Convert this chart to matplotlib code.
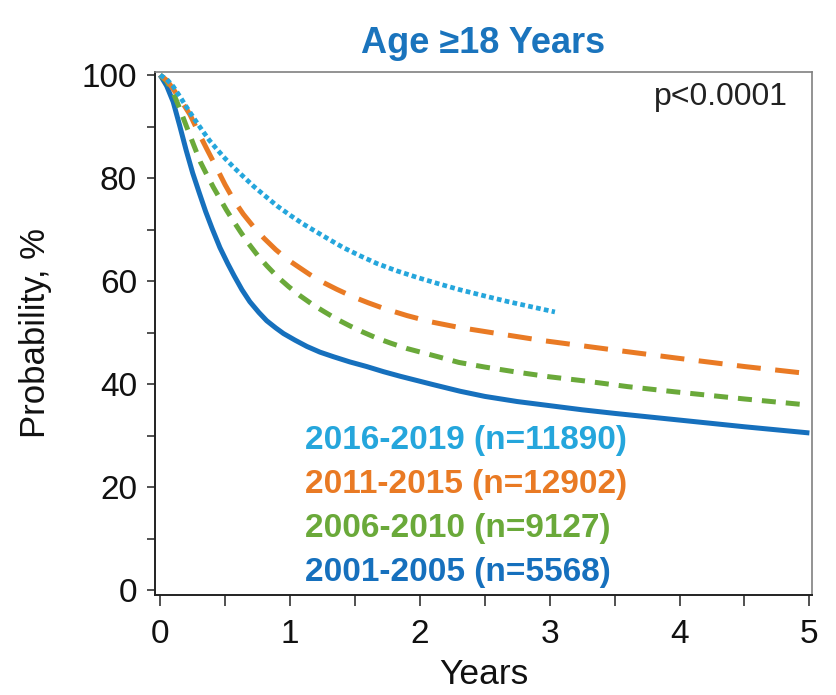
import matplotlib
matplotlib.use("Agg")
import matplotlib.pyplot as plt
from matplotlib.ticker import MultipleLocator

plt.rcParams['font.family'] = ['Liberation Sans', 'DejaVu Sans']

# ---- data ----
t_2001 = [0, 0.05, 0.1, 0.15, 0.2, 0.25, 0.3, 0.35, 0.4, 0.46, 0.52, 0.57, 0.63, 0.69, 0.76, 0.82,
          0.89, 0.95, 1.04, 1.13, 1.23, 1.335, 1.46, 1.59, 1.72, 1.85, 2.1, 2.31, 2.5, 2.75, 3.0,
          3.25, 3.5, 4.0, 4.5, 5.0]
v_2001 = [100, 97.9, 94.8, 90.2, 85.4, 81.0, 77.2, 73.5, 70.2, 66.5, 63.4, 61.0, 58.3, 56.0, 53.9, 52.3,
          50.9, 49.8, 48.5, 47.3, 46.2, 45.3, 44.3, 43.4, 42.4, 41.5, 39.9, 38.6, 37.6, 36.6, 35.8,
          35.0, 34.3, 33.0, 31.7, 30.5]

t_2006 = [0, 0.05, 0.1, 0.15, 0.2, 0.26, 0.31, 0.36, 0.41, 0.46, 0.51, 0.56, 0.62, 0.68, 0.75, 0.82,
          0.9, 0.99, 1.08, 1.17, 1.26, 1.36, 1.46, 1.56, 1.67, 1.78, 1.9, 2.02, 2.14, 2.3, 2.5, 2.75,
          3.0, 3.27, 3.6, 3.96, 4.5, 5.0]
v_2006 = [100, 98.8, 96.6, 93.5, 90.2, 86.3, 83.1, 80.6, 78.2, 76.0, 73.8, 71.8, 69.5, 67.3, 65.0, 63.0,
          60.9, 58.9, 57.1, 55.5, 54.1, 52.6, 51.3, 50.1, 48.9, 47.9, 46.9, 46.1, 45.3, 44.2, 43.3, 42.3,
          41.4, 40.6, 39.5, 38.5, 37.1, 35.9]

t_2011 = [0, 0.05, 0.1, 0.17, 0.23, 0.3, 0.36, 0.43, 0.5, 0.57, 0.64, 0.72, 0.8, 0.89, 0.98, 1.05,
          1.15, 1.25, 1.36, 1.48, 1.6, 1.72, 1.9, 2.08, 2.3, 2.55, 2.93, 3.2, 3.5, 3.96, 4.5, 5.0]
v_2011 = [100, 99.0, 97.3, 94.7, 92.3, 88.6, 85.6, 82.2, 78.7, 75.6, 73.0, 70.5, 68.3, 66.1, 64.2, 63.0,
          61.3, 59.8, 58.4, 57.0, 55.8, 54.7, 53.3, 52.1, 51.0, 50.0, 48.5, 47.6, 46.6, 45.1, 43.4, 42.0]

t_2016 = [0, 0.05, 0.1, 0.15, 0.2, 0.26, 0.32, 0.38, 0.44, 0.5, 0.57, 0.64, 0.72, 0.8, 0.9, 1.0,
          1.1, 1.2, 1.3, 1.41, 1.54, 1.67, 1.82, 1.98, 2.14, 2.31, 2.5, 2.68, 2.86, 3.04]
v_2016 = [100, 99.2, 97.8, 95.9, 93.9, 91.6, 89.4, 87.3, 85.5, 83.8, 82.0, 80.3, 78.4, 76.7, 74.6, 72.8,
          71.1, 69.6, 68.1, 66.5, 64.9, 63.4, 62.0, 60.7, 59.5, 58.3, 57.1, 56.0, 55.0, 54.0]

labels = ["2016-2019 (n=11890)", "2011-2015 (n=12902)", "2006-2010 (n=9127)", "2001-2005 (n=5568)"]
title = "Age \u226518 Years"
p_text = "p<0.0001"

c_2001 = "#1670bd"
c_2006 = "#6aa93a"
c_2011 = "#e97a24"
c_2016 = "#25a6dc"

fig = plt.figure(figsize=(8.37, 6.95), dpi=100)
ax = fig.add_axes([155/837, 1-595/695, (812-155)/837, (595-72)/695])

ax.plot(t_2001, v_2001, color=c_2001, lw=3.6, solid_capstyle='butt', solid_joinstyle='round', zorder=3)
ax.plot(t_2006, v_2006, color=c_2006, lw=3.6, dashes=(2.8, 2.0), zorder=3)
ax.plot(t_2011, v_2011, color=c_2011, lw=3.6, dashes=(4.8, 2.9), zorder=3)
ax.plot(t_2016, v_2016, color=c_2016, lw=3.4, dashes=(1.0, 0.7), zorder=3)

ax.set_xlim(-0.04, 5.02)
ax.set_ylim(-0.97, 100.6)

ax.xaxis.set_major_locator(MultipleLocator(1))
ax.xaxis.set_minor_locator(MultipleLocator(0.5))
ax.yaxis.set_major_locator(MultipleLocator(20))
ax.yaxis.set_minor_locator(MultipleLocator(10))

ax.tick_params(axis='x', which='both', direction='out', length=8, width=1.2, color='#333333',
               labelsize=24, pad=9, labelcolor='#111111')
ax.tick_params(axis='y', which='both', direction='out', length=6, width=1.2, color='#333333',
               labelsize=24, pad=7, labelcolor='#111111')

for s in ['left', 'bottom']:
    ax.spines[s].set_color('#222222')
    ax.spines[s].set_linewidth(1.4)
for s in ['top', 'right']:
    ax.spines[s].set_color('#808080')
    ax.spines[s].set_linewidth(1.2)

ax.set_xlabel("Years", fontsize=25.5, color='#111111', labelpad=6)
ax.set_ylabel("Probability, %", fontsize=25, color='#111111', labelpad=21)
ax.set_title(title, fontsize=26, fontweight='bold', color='#1a74bd', pad=14)

ax.text((788-155)/657, (595-105)/523, p_text, transform=ax.transAxes, ha='right', va='baseline',
        fontsize=23, color='#222222')

label_colors = [c_2016, c_2011, c_2006, c_2001]
label_y = [441, 485, 529, 572]
for lab, col, yp in zip(labels, label_colors, label_y):
    ax.text((305-155)/(812-155), (595-yp)/(595-72), lab, transform=ax.transAxes,
            ha='left', va='center', fontsize=24, fontweight='bold', color=col)

fig.savefig("out.png", dpi=100)
